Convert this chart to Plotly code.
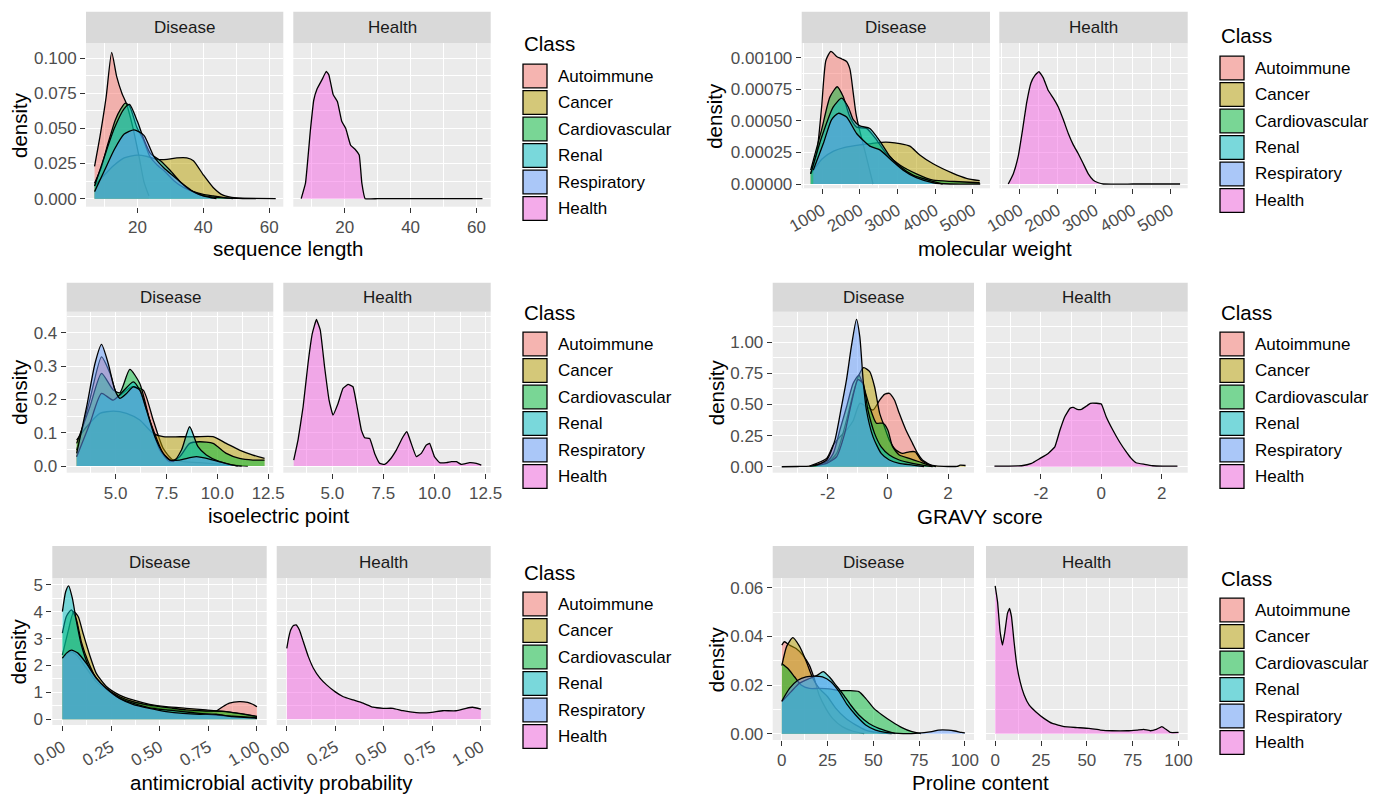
import plotly.graph_objects as go

W, H = 1384, 794
OFF = 8  # page body margin of the browser
FW, FH = W - OFF, H - OFF
FONT = "Arial, 'Liberation Sans', sans-serif"

CLASSES = ["Autoimmune", "Cancer", "Cardiovascular", "Renal", "Respiratory", "Health"]
CLASS_COLORS = ["#F8766D", "#B79F00", "#00BA38", "#00BFC4", "#619CFF", "#F564E3"]
FACETS = ["Disease", "Health"]

# ---------------- sequence length ----------------
SEQ_AUTO_X = [7, 8.7, 10.5, 12.2, 13.7, 15.3, 16.6, 18.5, 20.5, 22, 23.5]
SEQ_AUTO_Y = [0.023, 0.045, 0.072, 0.104, 0.087, 0.075, 0.068, 0.052, 0.03, 0.012, 0.002]
SEQ_CANC_X = [7, 10, 13, 16, 20, 23, 26, 29, 32, 35, 37, 40, 43, 46, 50, 56]
SEQ_CANC_Y = [0.009, 0.017, 0.024, 0.029, 0.031, 0.03, 0.028, 0.028, 0.029, 0.029, 0.027, 0.017, 0.008, 0.0025, 0.0005, 0.0]
SEQ_CARD_X = [7, 9, 10.8, 13.3, 15, 16.3, 17.6, 19.8, 21.8, 23.8, 26, 28.5, 31, 34, 37, 40, 43, 46, 49]
SEQ_CARD_Y = [0.011, 0.022, 0.037, 0.056, 0.064, 0.068, 0.066, 0.051, 0.042, 0.03, 0.024, 0.019, 0.013, 0.008, 0.005, 0.003, 0.002, 0.001, 0.0]
SEQ_RENA_X = [7, 10, 13, 16, 17.6, 20, 22, 24, 27, 30, 33, 36, 40, 45, 50, 55, 62]
SEQ_RENA_Y = [0.009, 0.03, 0.05, 0.064, 0.067, 0.055, 0.042, 0.032, 0.027, 0.02, 0.012, 0.006, 0.002, 0.0008, 0.0003, 0.0002, 0.0]
SEQ_RESP_X = [7, 10, 13, 16, 19, 22, 25, 28, 31, 34, 37, 40, 44]
SEQ_RESP_Y = [0.005, 0.02, 0.035, 0.046, 0.049, 0.045, 0.03, 0.022, 0.016, 0.01, 0.005, 0.002, 0.0]
SEQ_HEAL_X = [6.8, 8.1, 9.6, 10.6, 11.6, 13.2, 14.4, 15.2, 16.5, 17.8, 19.1, 20.3, 21.8, 23.2, 24.4, 25.2, 26.2, 30, 40, 50, 61.8]
SEQ_HEAL_Y = [0.0, 0.011, 0.049, 0.070, 0.078, 0.085, 0.0906, 0.088, 0.074, 0.069, 0.055, 0.050, 0.038, 0.035, 0.031, 0.011, 0.0, 0.0, 0.0, 0.0, 0.0]

# ---------------- molecular weight ----------------
MW_AUTO_X = [690, 850, 982, 1097, 1230, 1380, 1520, 1646, 1735, 1823, 1894, 1980, 2100, 2250, 2350]
MW_AUTO_Y = [0.00008, 0.00024, 0.00061, 0.00098, 0.00105, 0.00101, 0.00099, 0.00097, 0.00091, 0.00072, 0.00056, 0.00044, 0.0003, 0.00012, 0.0]
MW_CANC_X = [690, 1000, 1300, 1600, 2000, 2300, 2575, 2800, 3062, 3327, 3593, 3947, 4478, 4832, 5186]
MW_CANC_Y = [0.00008, 0.0002, 0.00026, 0.00029, 0.00031, 0.00032, 0.00033, 0.00033, 0.00032, 0.0003, 0.00023, 0.00016, 0.000084, 0.000045, 0.000026]
MW_CARD_X = [690, 982, 1204, 1398, 1558, 1735, 1912, 2177, 2443, 2708, 3062, 3504, 3947, 4500, 5186]
MW_CARD_Y = [0.00011, 0.00043, 0.00069, 0.00077, 0.00069, 0.00053, 0.00045, 0.00044, 0.00035, 0.00024, 0.00015, 0.00008, 0.00003, 0.00002, 0.00001]
MW_RENA_X = [690, 982, 1292, 1513, 1690, 1823, 2000, 2265, 2531, 2796, 3062, 3416, 3947, 4200]
MW_RENA_Y = [0.00008, 0.00037, 0.00061, 0.00068, 0.00061, 0.00051, 0.00046, 0.00044, 0.00034, 0.00022, 0.00014, 0.00007, 0.00002, 0.0]
MW_RESP_X = [760, 1027, 1248, 1425, 1646, 1912, 2265, 2531, 2796, 3150, 3500, 3947, 4400, 5200]
MW_RESP_Y = [0.00011, 0.00032, 0.00051, 0.00056, 0.00053, 0.0004, 0.0003, 0.00027, 0.0002, 0.00011, 0.00005, 0.00001, 0.0, 0.0]
MW_HEAL_X = [690, 823, 956, 1071, 1177, 1293, 1400, 1506, 1621, 1754, 1887, 2020, 2153, 2286, 2419, 2552, 2685, 2818, 2951, 3084, 3217, 4000, 5257]
MW_HEAL_Y = [0.0, 0.00008, 0.00022, 0.00043, 0.00064, 0.0008, 0.00086, 0.00089, 0.00084, 0.00074, 0.00068, 0.00061, 0.00051, 0.0004, 0.00031, 0.00024, 0.00016, 0.00008, 0.00003, 0.00001, 0.0, 0.0, 0.0]

# ---------------- isoelectric point ----------------
PI_AUTO_X = [3.09, 3.74, 4.31, 4.72, 5.13, 5.78, 6.36, 6.85, 7.34, 7.83, 9.13, 10.77, 11.5]
PI_AUTO_Y = [0.048, 0.2, 0.328, 0.28, 0.21, 0.238, 0.228, 0.138, 0.053, 0.018, 0.01, 0.003, 0.0]
PI_CANC_X = [3.09, 3.58, 4.23, 4.89, 5.54, 6.19, 6.85, 7.34, 8.15, 8.97, 9.79, 10.44, 11.09, 11.75, 12.32]
PI_CANC_Y = [0.078, 0.118, 0.158, 0.165, 0.158, 0.138, 0.098, 0.088, 0.088, 0.088, 0.088, 0.068, 0.048, 0.033, 0.023]
PI_CARD_X = [3.09, 3.74, 4.31, 4.89, 5.21, 5.7, 6.19, 6.68, 7.17, 7.66, 8.15, 8.64, 9.13, 9.79, 10.44, 11.09, 11.75, 12.32]
PI_CARD_Y = [0.068, 0.178, 0.278, 0.228, 0.22, 0.29, 0.248, 0.138, 0.048, 0.013, 0.028, 0.068, 0.073, 0.068, 0.038, 0.023, 0.018, 0.018]
PI_RENA_X = [3.09, 3.74, 4.31, 4.89, 5.87, 6.19, 6.68, 7.34, 7.83, 8.24, 8.64, 9.05, 9.46, 10.11, 10.76, 11.2]
PI_RENA_Y = [0.028, 0.128, 0.218, 0.198, 0.253, 0.228, 0.138, 0.038, 0.013, 0.048, 0.118, 0.058, 0.033, 0.013, 0.003, 0.0]
PI_RESP_X = [3.09, 3.58, 3.99, 4.31, 4.64, 4.97, 5.21, 5.54, 5.87, 6.19, 6.52, 6.93, 7.34, 7.66, 8.15, 8.97, 9.79, 10.6, 11.0]
PI_RESP_Y = [0.038, 0.178, 0.308, 0.365, 0.308, 0.228, 0.203, 0.218, 0.238, 0.228, 0.168, 0.088, 0.038, 0.018, 0.018, 0.028, 0.018, 0.005, 0.0]
PI_HEAL_X = [3.11, 3.32, 3.57, 3.81, 4.02, 4.22, 4.41, 4.62, 4.84, 5.03, 5.28, 5.52, 5.77, 6.01, 6.21, 6.42, 6.58, 6.83, 7.07, 7.32,
             7.56, 7.8, 8.13, 8.46, 8.65, 8.86, 9.11, 9.35, 9.6, 9.76, 10.0, 10.25, 10.58, 10.82, 11.07, 11.31, 11.72, 12.05, 12.29]
PI_HEAL_Y = [0.018, 0.078, 0.178, 0.308, 0.398, 0.44, 0.408, 0.298, 0.198, 0.153, 0.188, 0.233, 0.245, 0.238, 0.178, 0.108, 0.085, 0.083, 0.038, 0.008,
             0.005, 0.018, 0.048, 0.088, 0.103, 0.068, 0.028, 0.038, 0.063, 0.068, 0.028, 0.01, 0.01, 0.013, 0.013, 0.005, 0.01, 0.008, 0.003]

# ---------------- GRAVY score ----------------
GR_AUTO_X = [-2.6, -2.03, -1.81, -1.59, -1.37, -1.15, -0.93, -0.71, -0.49, -0.27, -0.11, 0.05, 0.22, 0.38, 0.6, 0.82, 0.99, 1.15, 1.37, 1.5]
GR_AUTO_Y = [0.005, 0.067, 0.174, 0.24, 0.295, 0.37, 0.51, 0.483, 0.456, 0.536, 0.582, 0.59, 0.536, 0.429, 0.295, 0.188, 0.107, 0.054, 0.019, 0.0]
GR_CANC_X = [-3.52, -3.0, -2.58, -2.03, -1.7, -1.37, -1.15, -0.96, -0.8, -0.6, -0.44, -0.27, -0.11, 0.05, 0.27, 0.49, 0.71, 0.91, 1.1, 1.37, 1.6, 2.0, 2.3, 2.4, 2.58]
GR_CANC_Y = [0.0, 0.002, 0.005, 0.027, 0.107, 0.375, 0.59, 0.737, 0.796, 0.764, 0.643, 0.429, 0.32, 0.214, 0.134, 0.107, 0.12, 0.12, 0.054, 0.019, 0.006, 0.002, 0.003, 0.012, 0.01]
GR_CARD_X = [-2.47, -2.03, -1.81, -1.59, -1.37, -1.15, -0.96, -0.77, -0.6, -0.38, -0.16, 0.0, 0.16, 0.38, 0.71, 1.04, 1.37, 1.6]
GR_CARD_Y = [0.013, 0.04, 0.107, 0.295, 0.48, 0.67, 0.737, 0.617, 0.48, 0.35, 0.35, 0.295, 0.16, 0.094, 0.067, 0.04, 0.013, 0.0]
GR_RENA_X = [-2.58, -2.03, -1.7, -1.43, -1.21, -0.99, -0.82, -0.66, -0.44, -0.22, 0.05, 0.38, 0.82, 1.48]
GR_RENA_Y = [0.005, 0.027, 0.08, 0.268, 0.51, 0.70, 0.67, 0.456, 0.268, 0.16, 0.094, 0.054, 0.027, 0.0]
GR_RESP_X = [-2.36, -2.03, -1.76, -1.54, -1.37, -1.21, -1.04, -0.93, -0.82, -0.71, -0.49, -0.22, 0.05, 0.38, 0.82, 1.2]
GR_RESP_Y = [0.013, 0.054, 0.21, 0.48, 0.70, 0.965, 1.185, 1.046, 0.70, 0.456, 0.24, 0.107, 0.054, 0.027, 0.013, 0.0]
GR_HEAL_X = [-3.54, -2.64, -2.31, -2.03, -1.76, -1.54, -1.37, -1.21, -1.04, -0.93, -0.8, -0.66, -0.49, -0.36, -0.16, 0.0, 0.16, 0.38, 0.6, 0.82,
             0.99, 1.15, 1.43, 1.7, 2.03, 2.52]
GR_HEAL_Y = [0.005, 0.008, 0.027, 0.067, 0.107, 0.16, 0.295, 0.402, 0.469, 0.477, 0.461, 0.461, 0.488, 0.51, 0.51, 0.504, 0.402, 0.295, 0.201, 0.121,
             0.067, 0.032, 0.019, 0.008, 0.005, 0.005]

# ---------------- antimicrobial activity probability ----------------
AMP_AUTO_X = [0, 0.038, 0.072, 0.123, 0.174, 0.243, 0.327, 0.412, 0.496, 0.58, 0.665, 0.79, 0.824, 0.858, 0.909, 0.952, 0.978, 1.0]
AMP_AUTO_Y = [2.27, 2.52, 2.4, 1.9, 1.4, 1.03, 0.72, 0.56, 0.41, 0.35, 0.29, 0.31, 0.47, 0.6, 0.66, 0.63, 0.56, 0.47]
AMP_CANC_X = [0, 0.029, 0.058, 0.081, 0.106, 0.14, 0.174, 0.226, 0.294, 0.362, 0.448, 0.533, 0.636, 0.738, 0.841, 0.926, 1.0]
AMP_CANC_Y = [2.39, 3.26, 4.0, 3.82, 3.2, 2.39, 1.71, 1.22, 0.9, 0.72, 0.56, 0.47, 0.41, 0.35, 0.29, 0.19, 0.1]
AMP_CARD_X = [0, 0.02, 0.046, 0.072, 0.097, 0.132, 0.174, 0.226, 0.294, 0.362, 0.448, 0.499, 0.568, 0.636, 0.738, 0.841, 0.909, 0.978, 1.0]
AMP_CARD_Y = [3.2, 3.82, 4.07, 3.7, 2.89, 2.15, 1.53, 1.15, 0.84, 0.66, 0.53, 0.47, 0.41, 0.35, 0.31, 0.29, 0.22, 0.14, 0.11]
AMP_RENA_X = [0, 0.017, 0.032, 0.051, 0.072, 0.097, 0.132, 0.174, 0.226, 0.294, 0.362, 0.448, 0.533, 0.619, 0.704, 0.79, 0.875, 1.0]
AMP_RENA_Y = [4.0, 4.75, 4.96, 4.5, 3.64, 2.77, 2.02, 1.53, 1.15, 0.78, 0.6, 0.43, 0.35, 0.29, 0.22, 0.16, 0.12, 0.06]
AMP_RESP_X = [0, 0.021, 0.046, 0.08, 0.123, 0.174, 0.226, 0.294, 0.362, 0.448, 0.533, 0.619, 0.704, 0.79, 0.875, 1.0]
AMP_RESP_Y = [2.27, 2.46, 2.57, 2.46, 2.08, 1.53, 1.15, 0.78, 0.56, 0.41, 0.29, 0.22, 0.19, 0.19, 0.1, 0.04]
AMP_HEAL_X = [0, 0.009, 0.02, 0.034, 0.048, 0.065, 0.085, 0.111, 0.137, 0.171, 0.205, 0.248, 0.291, 0.342, 0.393, 0.444, 0.496, 0.547, 0.598, 0.667,
              0.735, 0.803, 0.872, 0.923, 0.957, 1.0]
AMP_HEAL_Y = [2.64, 3.01, 3.32, 3.49, 3.51, 3.32, 2.89, 2.33, 1.9, 1.53, 1.28, 1.03, 0.84, 0.72, 0.6, 0.45, 0.41, 0.41, 0.32, 0.25,
              0.25, 0.32, 0.32, 0.41, 0.45, 0.38]

# ---------------- Proline content ----------------
PRO_AUTO_X = [0, 1.4, 4.2, 7.8, 11.4, 15, 17.7, 20.4, 24, 27.7, 33, 38.5, 45]
PRO_AUTO_Y = [0.0364, 0.0378, 0.0364, 0.035, 0.0323, 0.0282, 0.0227, 0.0159, 0.0104, 0.0063, 0.0029, 0.0011, 0.0]
PRO_CANC_X = [0, 2.7, 6, 9.6, 13.2, 16.8, 20.4, 25, 29.5, 34.9, 40.3, 45.8, 53, 60]
PRO_CANC_Y = [0.028, 0.036, 0.0395, 0.036, 0.030, 0.023, 0.0186, 0.0152, 0.0104, 0.0063, 0.0036, 0.0015, 0.0004, 0.0]
PRO_CARD_X = [0, 3.3, 6.9, 10.5, 15, 20.4, 25.9, 31.3, 36.7, 42.1, 45.8, 50.3, 54.8, 60.2, 65.6, 71.1, 76]
PRO_CARD_Y = [0.0289, 0.0268, 0.0234, 0.02, 0.0186, 0.0186, 0.0184, 0.0177, 0.0177, 0.0173, 0.0145, 0.0104, 0.0077, 0.0049, 0.0025, 0.0008, 0.0]
PRO_RENA_X = [0, 5.1, 9.6, 15, 19.5, 22.6, 25.9, 29.5, 33.1, 37.6, 42.1, 47.6, 53, 58.4, 62]
PRO_RENA_Y = [0.0132, 0.0173, 0.0207, 0.0227, 0.0241, 0.0255, 0.0234, 0.02, 0.0166, 0.0118, 0.0077, 0.0042, 0.0022, 0.0008, 0.0]
PRO_RESP_X = [0, 4.2, 8.7, 13.2, 17.7, 22.2, 26.8, 31.3, 35.8, 40.3, 45.8, 51.2, 56.6, 63.8, 72.9, 81.9, 85.5, 91, 94.6, 98.2, 100]
PRO_RESP_Y = [0.0134, 0.0186, 0.022, 0.0234, 0.0237, 0.0234, 0.0214, 0.0173, 0.0118, 0.0077, 0.0036, 0.0015, 0.0005, 0.0001, 0.0001, 0.0008, 0.0015, 0.0015, 0.0011, 0.0005, 0.0003]
PRO_HEAL_X = [0, 1.3, 2.7, 4, 5.3, 6.7, 7.8, 8.9, 10.3, 11.8, 13.6, 15.8, 18.5, 22.1, 26.6, 31.2, 37.5, 44.7, 51.1, 57.4,
              63.8, 71.9, 77.4, 81, 84.6, 88.2, 90.9, 93.7, 95.5, 100]
PRO_HEAL_Y = [0.0608, 0.0542, 0.0419, 0.0364, 0.0419, 0.0495, 0.0515, 0.0481, 0.0378, 0.0282, 0.0214, 0.0159, 0.0118, 0.009, 0.0063, 0.0042, 0.0029, 0.0025, 0.0022, 0.0015,
              0.0012, 0.0012, 0.0015, 0.0018, 0.0012, 0.0019, 0.0029, 0.0015, 0.0005, 0.0005]

# ---------------- axis tick labels ----------------
SEQ_XTICKS = [20, 40, 60]
SEQ_YTICKS = [0.0, 0.025, 0.05, 0.075, 0.1]
SEQ_YLABELS = ["0.000", "0.025", "0.050", "0.075", "0.100"]
MW_XTICKS = [1000, 2000, 3000, 4000, 5000]
MW_YTICKS = [0.0, 0.00025, 0.0005, 0.00075, 0.001]
MW_YLABELS = ["0.00000", "0.00025", "0.00050", "0.00075", "0.00100"]
PI_XTICKS = [5.0, 7.5, 10.0, 12.5]
PI_XLABELS = ["5.0", "7.5", "10.0", "12.5"]
PI_YTICKS = [0.0, 0.1, 0.2, 0.3, 0.4]
PI_YLABELS = ["0.0", "0.1", "0.2", "0.3", "0.4"]
GR_XTICKS = [-2, 0, 2]
GR_YTICKS = [0.0, 0.25, 0.5, 0.75, 1.0]
GR_YLABELS = ["0.00", "0.25", "0.50", "0.75", "1.00"]
AMP_XTICKS = [0.0, 0.25, 0.5, 0.75, 1.0]
AMP_XLABELS = ["0.00", "0.25", "0.50", "0.75", "1.00"]
AMP_YTICKS = [0, 1, 2, 3, 4, 5]
PRO_XTICKS = [0, 25, 50, 75, 100]
PRO_YTICKS = [0.0, 0.02, 0.04, 0.06]
PRO_YLABELS = ["0.00", "0.02", "0.04", "0.06"]


def minors(ticks, lo, hi):
    step = ticks[1] - ticks[0]
    out = []
    v = ticks[0] - step / 2
    while v > lo:
        v -= step
    v += step
    while v < hi:
        if v > lo:
            out.append(round(v, 10))
        v += step
    return out


PANELS = [
    dict(title="sequence length",
         series=[(SEQ_AUTO_X, SEQ_AUTO_Y), (SEQ_CANC_X, SEQ_CANC_Y), (SEQ_CARD_X, SEQ_CARD_Y),
                 (SEQ_RENA_X, SEQ_RENA_Y), (SEQ_RESP_X, SEQ_RESP_Y)],
         health=(SEQ_HEAL_X, SEQ_HEAL_Y),
         xt=SEQ_XTICKS, xl=[str(v) for v in SEQ_XTICKS], yt=SEQ_YTICKS, yl=SEQ_YLABELS,
         dx=(86, 283.3), hx=(293.3, 490.7), py=(43.3, 206.7), sy=(11.7, 43.3),
         xr=(4.4, 64.3), yr=(-0.0057, 0.1105), xang=0,
         ytx=20, xty=248, leg=(523, 76)),
    dict(title="molecular weight",
         series=[(MW_AUTO_X, MW_AUTO_Y), (MW_CANC_X, MW_CANC_Y), (MW_CARD_X, MW_CARD_Y),
                 (MW_RENA_X, MW_RENA_Y), (MW_RESP_X, MW_RESP_Y)],
         health=(MW_HEAL_X, MW_HEAL_Y),
         xt=MW_XTICKS, xl=[str(v) for v in MW_XTICKS], yt=MW_YTICKS, yl=MW_YLABELS,
         dx=(801.7, 990), hx=(999.3, 1187.7), py=(43.3, 188.3), sy=(11.7, 43.3),
         xr=(452, 5460), yr=(-0.000034, 0.001114), xang=-30,
         ytx=715, xty=248, leg=(1220, 68)),
    dict(title="isoelectric point",
         series=[(PI_AUTO_X, PI_AUTO_Y), (PI_CANC_X, PI_CANC_Y), (PI_CARD_X, PI_CARD_Y),
                 (PI_RENA_X, PI_RENA_Y), (PI_RESP_X, PI_RESP_Y)],
         health=(PI_HEAL_X, PI_HEAL_Y),
         xt=PI_XTICKS, xl=PI_XLABELS, yt=PI_YTICKS, yl=PI_YLABELS,
         dx=(66.7, 273.3), hx=(283.3, 490.7), py=(311.7, 472.7), sy=(282.7, 311.7),
         xr=(2.6, 12.75), yr=(-0.02, 0.4634), xang=0,
         ytx=19.5, xty=515, leg=(523, 344)),
    dict(title="GRAVY score",
         series=[(GR_AUTO_X, GR_AUTO_Y), (GR_CANC_X, GR_CANC_Y), (GR_CARD_X, GR_CARD_Y),
                 (GR_RENA_X, GR_RENA_Y), (GR_RESP_X, GR_RESP_Y)],
         health=(GR_HEAL_X, GR_HEAL_Y),
         xt=GR_XTICKS, xl=[str(v) for v in GR_XTICKS], yt=GR_YTICKS, yl=GR_YLABELS,
         dx=(772.7, 974), hx=(986, 1187.7), py=(311.7, 472.7), sy=(282.7, 311.7),
         xr=(-3.82, 2.86), yr=(-0.048, 1.246), xang=0,
         ytx=716, xty=516, leg=(1220, 344)),
    dict(title="antimicrobial activity probability",
         series=[(AMP_AUTO_X, AMP_AUTO_Y), (AMP_CANC_X, AMP_CANC_Y), (AMP_CARD_X, AMP_CARD_Y),
                 (AMP_RENA_X, AMP_RENA_Y), (AMP_RESP_X, AMP_RESP_Y)],
         health=(AMP_HEAL_X, AMP_HEAL_Y),
         xt=AMP_XTICKS, xl=AMP_XLABELS, yt=AMP_YTICKS, yl=[str(v) for v in AMP_YTICKS],
         dx=(52.3, 266.7), hx=(276.7, 490.7), py=(578.3, 725), sy=(546, 578.3),
         xr=(-0.052, 1.05), yr=(-0.21, 5.24), xang=-30,
         ytx=18.5, xty=782, leg=(523, 604)),
    dict(title="Proline content",
         series=[(PRO_AUTO_X, PRO_AUTO_Y), (PRO_CANC_X, PRO_CANC_Y), (PRO_CARD_X, PRO_CARD_Y),
                 (PRO_RENA_X, PRO_RENA_Y), (PRO_RESP_X, PRO_RESP_Y)],
         health=(PRO_HEAL_X, PRO_HEAL_Y),
         xt=PRO_XTICKS, xl=[str(v) for v in PRO_XTICKS], yt=PRO_YTICKS, yl=PRO_YLABELS,
         dx=(772.7, 974), hx=(986, 1187.7), py=(578.3, 740), sy=(546, 578.3),
         xr=(-5.0, 105.0), yr=(-0.0026, 0.0639), xang=0,
         ytx=716, xty=782, leg=(1220, 610)),
]


def hex_rgb(h):
    h = h.lstrip("#")
    return tuple(int(h[i:i + 2], 16) for i in (0, 2, 4))


def rgba(h, a):
    r, g, b = hex_rgb(h)
    return f"rgba({r},{g},{b},{a})"


def blend(h, bg=(242, 242, 242), a=0.5):
    r, g, b = hex_rgb(h)
    return "rgb({},{},{})".format(round(r * a + bg[0] * (1 - a)), round(g * a + bg[1] * (1 - a)),
                                  round(b * a + bg[2] * (1 - a)))


def px(x):
    return (x - OFF) / FW


def py_(y):
    return 1 - (y - OFF) / FH


fig = go.Figure()
layout = dict(width=FW, height=FH, margin=dict(l=0, r=0, t=0, b=0, autoexpand=False),
              paper_bgcolor="white", plot_bgcolor="#EBEBEB", showlegend=False,
              font=dict(family=FONT, size=17, color="#4D4D4D"))
shapes = []
annotations = []

for p, P in enumerate(PANELS):
    for f in range(2):
        idx = p * 2 + f + 1
        xname = "xaxis" if idx == 1 else f"xaxis{idx}"
        yname = "yaxis" if idx == 1 else f"yaxis{idx}"
        xref = "x" if idx == 1 else f"x{idx}"
        yref = "y" if idx == 1 else f"y{idx}"
        xd = P["dx"] if f == 0 else P["hx"]
        layout[xname] = dict(
            domain=[px(xd[0]), px(xd[1])], range=list(P["xr"]), anchor=yref, automargin=False,
            tickmode="array", tickvals=P["xt"], ticktext=P["xl"],
            showgrid=True, gridcolor="white", gridwidth=1.4, zeroline=False, showline=False,
            ticks="outside", ticklen=5, tickwidth=1, tickcolor="#333333",
            tickangle=P["xang"], tickfont=dict(size=17, color="#4D4D4D", family=FONT),
            minor=dict(tickmode="array", tickvals=minors(P["xt"], P["xr"][0], P["xr"][1]),
                       showgrid=True, gridcolor="white", gridwidth=0.7, ticks=""),
            fixedrange=True)
        layout[yname] = dict(
            domain=[py_(P["py"][1]), py_(P["py"][0])], range=list(P["yr"]), anchor=xref, automargin=False,
            tickmode="array", tickvals=P["yt"], ticktext=P["yl"],
            showticklabels=(f == 0), ticks="outside" if f == 0 else "",
            ticklen=5, tickwidth=1, tickcolor="#333333",
            showgrid=True, gridcolor="white", gridwidth=1.4, zeroline=False, showline=False,
            tickfont=dict(size=17, color="#4D4D4D", family=FONT),
            minor=dict(tickmode="array", tickvals=minors(P["yt"], P["yr"][0], P["yr"][1]),
                       showgrid=True, gridcolor="white", gridwidth=0.7, ticks=""),
            fixedrange=True)

        # strip
        shapes.append(dict(type="rect", xref="paper", yref="paper",
                           x0=px(xd[0]), x1=px(xd[1]), y0=py_(P["sy"][1]), y1=py_(P["sy"][0]),
                           fillcolor="#D9D9D9", line=dict(width=0), layer="below"))
        annotations.append(dict(xref="paper", yref="paper", x=px((xd[0] + xd[1]) / 2),
                                y=py_((P["sy"][0] + P["sy"][1]) / 2), text=FACETS[f], showarrow=False,
                                xanchor="center", yanchor="middle",
                                font=dict(size=17, color="#1A1A1A", family=FONT)))

        if f == 0:
            for c, (xs, ys) in enumerate(P["series"]):
                fig.add_trace(go.Scatter(x=xs, y=ys, xaxis=xref, yaxis=yref, mode="lines",
                                         fill="tozeroy", fillcolor=rgba(CLASS_COLORS[c], 0.5),
                                         line=dict(color="black", width=1.3, shape="spline", smoothing=0.6),
                                         name=CLASSES[c], hoverinfo="skip"))
        else:
            xs, ys = P["health"]
            fig.add_trace(go.Scatter(x=xs, y=ys, xaxis=xref, yaxis=yref, mode="lines",
                                     fill="tozeroy", fillcolor=rgba(CLASS_COLORS[5], 0.5),
                                     line=dict(color="black", width=1.3, shape="spline", smoothing=0.3),
                                     name=CLASSES[5], hoverinfo="skip"))

    # axis titles
    annotations.append(dict(xref="paper", yref="paper", x=px((P["dx"][0] + P["hx"][1]) / 2), y=py_(P["xty"]),
                            text=P["title"], showarrow=False, xanchor="center", yanchor="middle",
                            font=dict(size=20.5, color="black", family=FONT)))
    annotations.append(dict(xref="paper", yref="paper", x=px(P["ytx"]), y=py_((P["py"][0] + P["py"][1]) / 2),
                            text="density", showarrow=False, textangle=-90, xanchor="center", yanchor="middle",
                            font=dict(size=20.5, color="black", family=FONT)))

    # legend
    lx, ly = P["leg"]
    annotations.append(dict(xref="paper", yref="paper", x=px(lx - 1), y=py_(ly - 32), text="Class",
                            showarrow=False, xanchor="left", yanchor="middle",
                            font=dict(size=20.5, color="black", family=FONT)))
    for c, name in enumerate(CLASSES):
        cy = ly + 26.5 * c
        shapes.append(dict(type="rect", xref="paper", yref="paper",
                           x0=px(lx), x1=px(lx + 24), y0=py_(cy + 11.8), y1=py_(cy - 11.8),
                           fillcolor=blend(CLASS_COLORS[c]), line=dict(color="black", width=1.3)))
        annotations.append(dict(xref="paper", yref="paper", x=px(lx + 33), y=py_(cy), text=name,
                                showarrow=False, xanchor="left", yanchor="middle",
                                font=dict(size=17, color="black", family=FONT)))

layout["shapes"] = shapes
layout["annotations"] = annotations
fig.update_layout(**layout)
fig.write_html("out.html")
